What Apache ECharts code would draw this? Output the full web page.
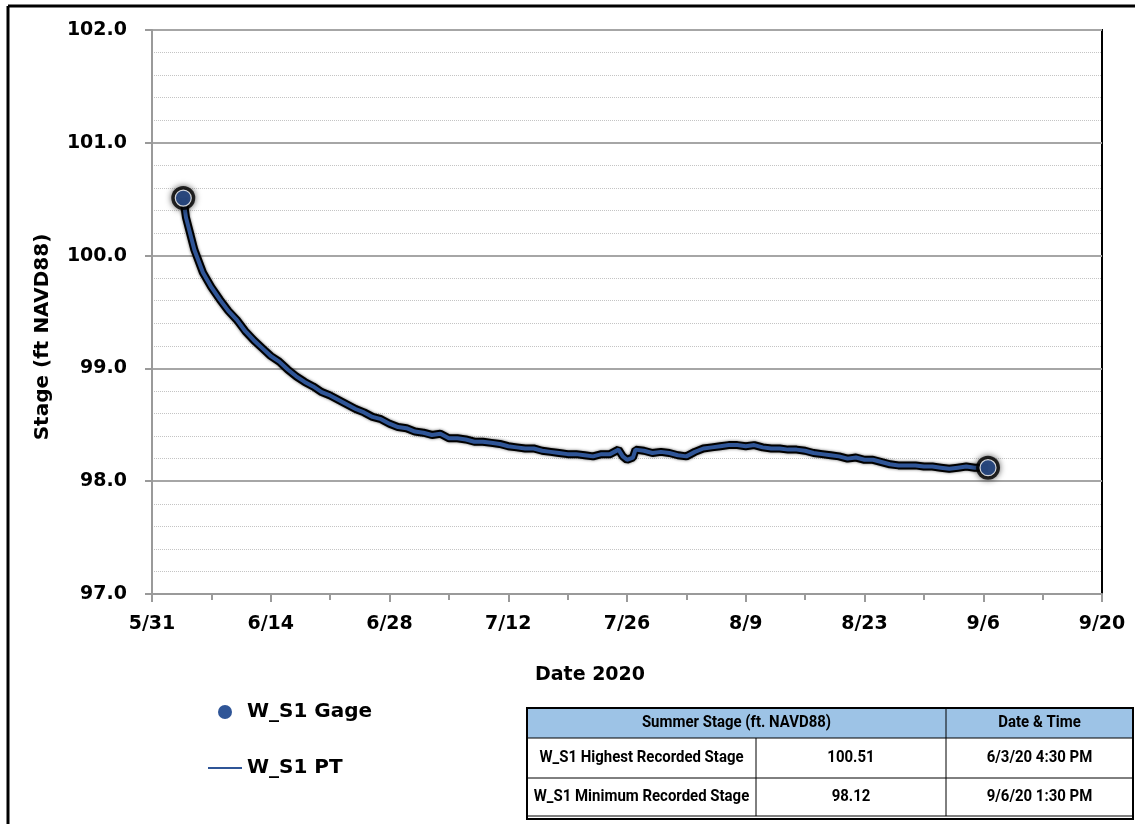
<!DOCTYPE html>
<html>
<head>
	<meta charset="utf-8">
	<title>W_S1 Stage</title>
	<style>
		body { margin: 0; padding: 0; background: #fff; }
		#main { width: 1135px; height: 824px; }
	</style>
</head>
<body>
	<div id="main"></div>
	<script src="https://cdn.jsdelivr.net/npm/echarts@6/dist/echarts.min.js"></script>
	<script type="text/javascript">
		// x axis = days since 5/31/2020
		var xTickLabels = ['5/31', '6/14', '6/28', '7/12', '7/26', '8/9', '8/23', '9/6', '9/20'];
		var startDate = '2020-05-31T00:00';

		// W_S1 PT (pressure transducer) stage
		var ptDays = [3.69, 4, 5, 6, 7, 8, 9, 10, 11, 12, 13, 14, 15, 16, 17, 18, 19, 20, 21, 22, 23, 24, 25, 26, 27, 28, 29, 30,
			31, 32, 33, 34, 35, 36, 37, 38, 39, 40, 41, 42, 43, 44, 45, 46, 47, 48, 49, 50, 51, 52, 53, 54, 55, 55.5, 56, 56.7,
			57, 58, 59, 60, 61, 62, 63, 64, 65, 66, 67, 68, 69, 70, 71, 72, 73, 74, 75, 76, 77, 78, 79, 80, 81, 82, 83, 84,
			85, 86, 87, 88, 89, 90, 91, 92, 93, 94, 95, 96, 97, 98, 98.56];
		var ptStage = [100.51, 100.34, 100.05, 99.85, 99.72, 99.61, 99.51, 99.43, 99.33, 99.25, 99.18, 99.11, 99.06, 98.99, 98.93,
			98.88, 98.84, 98.79, 98.76, 98.72, 98.68, 98.64, 98.61, 98.57, 98.55, 98.51, 98.48, 98.47, 98.44, 98.43, 98.41,
			98.42, 98.38, 98.38, 98.37, 98.35, 98.35, 98.34, 98.33, 98.31, 98.30, 98.29, 98.29, 98.27, 98.26, 98.25, 98.24,
			98.24, 98.23, 98.22, 98.24, 98.24, 98.28, 98.22, 98.19, 98.21, 98.28, 98.27, 98.25, 98.26, 98.25, 98.23, 98.22,
			98.26, 98.29, 98.30, 98.31, 98.32, 98.32, 98.31, 98.32, 98.30, 98.29, 98.29, 98.28, 98.28, 98.27, 98.25, 98.24,
			98.23, 98.22, 98.20, 98.21, 98.19, 98.19, 98.17, 98.15, 98.14, 98.14, 98.14, 98.13, 98.13, 98.12, 98.11, 98.12,
			98.13, 98.12, 98.12, 98.12];

		// W_S1 Gage readings
		var gageTimes = ['2020-06-03T16:30', '2020-09-06T13:30'];
		var gageStage = [100.51, 98.12];

		// summary table
		var tableHeader = ['Summer Stage (ft. NAVD88)', 'Date & Time'];
		var tableRows = [
			['W_S1 Highest Recorded Stage', '100.51', '6/3/20 4:30 PM'],
			['W_S1 Minimum Recorded Stage', '98.12', '9/6/20 1:30 PM']
		];

		var FONT = '"DejaVu Sans", sans-serif';
		var TABLE_FONT = 'Roboto, "Noto Sans", sans-serif';
		var BLUE = '#2F5597';

		function dayOffset(t) {
			return (Date.parse(t) - Date.parse(startDate)) / 86400000;
		}

		var ptData = [];
		for (var i = 0; i < ptDays.length; i++) {
			ptData.push([ptDays[i], ptStage[i]]);
		}
		var gageData = [];
		for (var j = 0; j < gageTimes.length; j++) {
			gageData.push([dayOffset(gageTimes[j]), gageStage[j]]);
		}

		// table drawn with graphic elements
		var tX = [527, 756, 946, 1133];
		var tY = [708, 738, 778, 816];
		var tableGraphic = [
			{ type: 'rect', shape: { x: tX[0], y: tY[0], width: tX[3] - tX[0], height: tY[1] - tY[0] }, style: { fill: '#9DC3E6' } },
			{ type: 'rect', shape: { x: tX[0], y: tY[0], width: tX[3] - tX[0], height: tY[3] - tY[0] + 3 }, style: { fill: 'none', stroke: '#000', lineWidth: 2 } },
			{ type: 'line', shape: { x1: tX[0], y1: tY[3], x2: tX[3], y2: tY[3] }, style: { stroke: '#000', lineWidth: 1 } },
			{ type: 'line', shape: { x1: tX[0], y1: tY[1], x2: tX[3], y2: tY[1] }, style: { stroke: '#000', lineWidth: 1 } },
			{ type: 'line', shape: { x1: tX[0], y1: tY[2], x2: tX[3], y2: tY[2] }, style: { stroke: '#000', lineWidth: 1 } },
			{ type: 'line', shape: { x1: tX[2], y1: tY[0], x2: tX[2], y2: tY[3] }, style: { stroke: '#000', lineWidth: 1 } },
			{ type: 'line', shape: { x1: tX[1], y1: tY[1], x2: tX[1], y2: tY[3] }, style: { stroke: '#000', lineWidth: 1 } }
		];
		function cellText(txt, x, y) {
			return {
				type: 'text', x: x, y: y, scaleX: 0.88,
				style: { text: txt, font: 'bold 17px ' + TABLE_FONT, fill: '#000', align: 'center', verticalAlign: 'middle' }
			};
		}
		tableGraphic.push(cellText(tableHeader[0], (tX[0] + tX[2]) / 2, (tY[0] + tY[1]) / 2));
		tableGraphic.push(cellText(tableHeader[1], (tX[2] + tX[3]) / 2, (tY[0] + tY[1]) / 2));
		for (var r = 0; r < tableRows.length; r++) {
			var cy = (tY[r + 1] + tY[r + 2]) / 2;
			tableGraphic.push(cellText(tableRows[r][0], (tX[0] + tX[1]) / 2, cy));
			tableGraphic.push(cellText(tableRows[r][1], (tX[1] + tX[2]) / 2, cy));
			tableGraphic.push(cellText(tableRows[r][2], (tX[2] + tX[3]) / 2, cy));
		}

		var myChart = echarts.init(document.getElementById('main'));

		myChart.setOption({
			animation: false,
			backgroundColor: '#fff',
			grid: {
				left: 152,
				right: 33,
				top: 30,
				bottom: 230,
				show: true,
				borderColor: '#000',
				borderWidth: 2
			},
			legend: {
				orient: 'vertical',
				left: 202,
				top: 697,
				itemWidth: 34,
				itemHeight: 14,
				itemGap: 36,
				textStyle: { fontFamily: FONT, fontSize: 20, fontWeight: 'bold', color: '#000' },
				data: [
					{ name: 'W_S1 Gage', icon: 'circle', itemStyle: { color: BLUE, borderWidth: 0, shadowBlur: 0, opacity: 1 } },
					{
						name: 'W_S1 PT',
						lineStyle: { width: 2, color: BLUE, shadowBlur: 0 },
						itemStyle: { color: 'rgba(0,0,0,0)', borderColor: 'rgba(0,0,0,0)', borderWidth: 0 }
					}
				]
			},
			xAxis: {
				type: 'value',
				min: 0,
				max: 112,
				interval: 14,
				axisLine: { lineStyle: { color: '#9A9A9A', width: 2 } },
				axisTick: { show: true, length: 8, lineStyle: { color: '#9A9A9A', width: 2 } },
				minorTick: { show: true, splitNumber: 2, length: 6, lineStyle: { color: '#9A9A9A', width: 2 } },
				splitLine: { show: false },
				axisLabel: {
					margin: 21,
					fontFamily: FONT,
					fontSize: 19,
					fontWeight: 'bold',
					color: '#000',
					formatter: function (v) { return xTickLabels[Math.round(v / 14)]; }
				}
			},
			yAxis: {
				type: 'value',
				min: 97,
				max: 102,
				interval: 1,
				axisLine: { show: true, lineStyle: { color: '#9A9A9A', width: 2 } },
				axisTick: { show: true, length: 7, lineStyle: { color: '#9A9A9A', width: 2 } },
				minorTick: { show: false, splitNumber: 5 },
				splitLine: { show: true, lineStyle: { color: '#A6A6A6', width: 2 } },
				minorSplitLine: { show: true, lineStyle: { color: '#C4C4C4', width: 1, type: 'dotted' } },
				axisLabel: {
					margin: 25,
					fontFamily: FONT,
					fontSize: 19,
					fontWeight: 'bold',
					color: '#000',
					formatter: function (v) { return v.toFixed(1); }
				}
			},
			graphic: [
				{ type: 'line', shape: { x1: 8, y1: 6, x2: 1135, y2: 6 }, style: { stroke: '#000', lineWidth: 3 } },
				{ type: 'line', shape: { x1: 8, y1: 6, x2: 8, y2: 824 }, style: { stroke: '#000', lineWidth: 3 } },
				{
					type: 'text', x: 43, y: 337, rotation: Math.PI / 2,
					style: { text: 'Stage (ft NAVD88)', font: 'bold 20px ' + FONT, fill: '#000', align: 'center', verticalAlign: 'middle' }
				},
				{
					type: 'text', x: 590, y: 675,
					style: { text: 'Date 2020', font: 'bold 19px ' + FONT, fill: '#000', align: 'center', verticalAlign: 'middle' }
				}
			].concat(tableGraphic),
			series: [
				{
					name: 'pt-outline',
					type: 'line',
					data: ptData,
					symbol: 'none',
					silent: true,
					lineStyle: { color: '#000', width: 8, shadowColor: 'rgba(0,0,0,0.6)', shadowBlur: 3 },
					z: 2
				},
				{
					name: 'W_S1 PT',
					type: 'line',
					data: ptData,
					symbol: 'none',
					lineStyle: { color: BLUE, width: 4 },
					itemStyle: { color: BLUE },
					z: 3
				},
				{
					name: 'gage-outline',
					type: 'scatter',
					data: gageData,
					symbolSize: 24,
					silent: true,
					itemStyle: { color: '#000', shadowColor: 'rgba(0,0,0,0.8)', shadowBlur: 6 },
					z: 4
				},
				{
					name: 'W_S1 Gage',
					type: 'scatter',
					data: gageData,
					symbolSize: 16,
					itemStyle: { color: BLUE, borderColor: '#fff', borderWidth: 1.2 },
					z: 5
				}
			]
		});

		window.addEventListener('resize', function () {
			myChart.resize();
		});
	</script>
</body>
</html>
